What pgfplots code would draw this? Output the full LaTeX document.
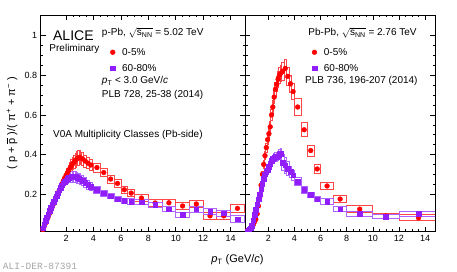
\documentclass[border=0pt]{standalone}
\usepackage{pgfplots}
\pgfplotsset{compat=1.18}
\usepackage{pgfplotstable}
\usepackage{amsmath}
\usepackage{fontspec}
\setmainfont{Liberation Sans}
\setmonofont{Liberation Mono}
\definecolor{cred}{RGB}{255,0,0}
\definecolor{cpur}{RGB}{145,30,250}
\definecolor{bred}{RGB}{255,70,70}
\definecolor{bpur}{RGB}{175,100,255}
\definecolor{aligray}{RGB}{165,165,165}

% p-Pb 0-5%
\pgfplotstableread{
x y dx dy
0.3 0.020 0.05 0.004
0.4 0.036 0.05 0.005
0.5 0.053 0.05 0.006
0.6 0.070 0.05 0.007
0.7 0.086 0.05 0.008
0.8 0.103 0.05 0.009
0.9 0.119 0.05 0.010
1.0 0.136 0.05 0.011
1.1 0.152 0.05 0.012
1.2 0.169 0.05 0.013
1.3 0.185 0.05 0.014
1.4 0.202 0.05 0.015
1.5 0.219 0.05 0.016
1.6 0.235 0.05 0.017
1.7 0.252 0.05 0.018
1.8 0.267 0.05 0.019
1.9 0.281 0.05 0.020
2.0 0.295 0.05 0.022
2.1 0.308 0.05 0.024
2.2 0.321 0.05 0.026
2.3 0.333 0.05 0.028
2.4 0.345 0.05 0.030
2.5 0.355 0.05 0.032
2.6 0.364 0.05 0.034
2.7 0.372 0.05 0.035
2.8 0.379 0.05 0.036
2.9 0.383 0.05 0.036
3.0 0.385 0.05 0.036
3.2 0.378 0.1 0.032
3.4 0.367 0.1 0.030
3.6 0.356 0.1 0.028
3.8 0.347 0.1 0.026
4.25 0.334 0.25 0.022
4.75 0.309 0.25 0.021
5.25 0.276 0.25 0.020
5.75 0.254 0.25 0.019
6.25 0.222 0.25 0.018
6.75 0.205 0.25 0.017
7.5 0.180 0.5 0.016
8.5 0.155 0.5 0.016
9.5 0.156 0.5 0.016
10.5 0.140 0.5 0.016
11.5 0.150 0.5 0.018
12.5 0.090 0.5 0.020
13.5 0.090 0.5 0.020
14.5 0.128 0.5 0.022
}\ppbred

% p-Pb 60-80%
\pgfplotstableread{
x y dx dy
0.3 0.028 0.05 0.004
0.4 0.048 0.05 0.005
0.5 0.066 0.05 0.006
0.6 0.083 0.05 0.007
0.7 0.099 0.05 0.008
0.8 0.115 0.05 0.009
0.9 0.131 0.05 0.010
1.0 0.146 0.05 0.011
1.1 0.161 0.05 0.012
1.2 0.176 0.05 0.013
1.3 0.190 0.05 0.014
1.4 0.205 0.05 0.015
1.5 0.219 0.05 0.016
1.6 0.232 0.05 0.017
1.7 0.244 0.05 0.018
1.8 0.255 0.05 0.019
1.9 0.264 0.05 0.020
2.0 0.271 0.05 0.022
2.1 0.277 0.05 0.024
2.2 0.282 0.05 0.025
2.3 0.286 0.05 0.026
2.4 0.288 0.05 0.027
2.5 0.289 0.05 0.028
2.6 0.289 0.05 0.028
2.7 0.287 0.05 0.028
2.8 0.284 0.05 0.028
2.9 0.280 0.05 0.027
3.0 0.276 0.05 0.027
3.2 0.268 0.1 0.025
3.4 0.258 0.1 0.024
3.6 0.247 0.1 0.022
3.8 0.238 0.1 0.020
4.25 0.222 0.25 0.016
4.75 0.205 0.25 0.015
5.25 0.190 0.25 0.014
5.75 0.175 0.25 0.013
6.25 0.166 0.25 0.013
6.75 0.163 0.25 0.013
7.5 0.160 0.5 0.013
8.5 0.146 0.5 0.013
9.5 0.124 0.5 0.013
10.5 0.096 0.5 0.013
11.5 0.124 0.5 0.014
12.5 0.112 0.5 0.015
13.5 0.104 0.5 0.016
14.5 0.074 0.5 0.016
}\ppbpur

% Pb-Pb 0-5%
\pgfplotstableread{
x y dx dy
0.35 0.015 0.05 0.003
0.45 0.018 0.05 0.003
0.55 0.022 0.05 0.003
0.65 0.027 0.05 0.003
0.75 0.034 0.05 0.004
0.85 0.045 0.05 0.004
0.95 0.060 0.05 0.005
1.05 0.072 0.05 0.006
1.15 0.100 0.05 0.007
1.25 0.140 0.05 0.009
1.35 0.185 0.05 0.011
1.45 0.245 0.05 0.014
1.55 0.300 0.05 0.016
1.65 0.350 0.05 0.018
1.75 0.394 0.05 0.020
1.85 0.435 0.05 0.022
1.95 0.475 0.05 0.024
2.05 0.505 0.05 0.026
2.15 0.540 0.05 0.028
2.25 0.600 0.05 0.030
2.35 0.640 0.05 0.032
2.45 0.690 0.05 0.034
2.55 0.730 0.05 0.036
2.65 0.755 0.05 0.038
2.75 0.780 0.05 0.039
2.85 0.800 0.05 0.040
2.95 0.810 0.05 0.041
3.1 0.820 0.1 0.045
3.3 0.835 0.1 0.046
3.5 0.795 0.1 0.045
3.7 0.757 0.1 0.043
3.9 0.718 0.1 0.041
4.25 0.640 0.25 0.042
4.75 0.525 0.25 0.035
5.25 0.420 0.25 0.028
5.75 0.327 0.25 0.022
6.5 0.241 0.5 0.018
7.5 0.175 0.5 0.017
9.0 0.124 1.0 0.018
11.0 0.090 1.0 0.013
13.5 0.080 1.5 0.015
}\pbpbred

% Pb-Pb 60-80%
\pgfplotstableread{
x y dx dy
0.35 0.012 0.05 0.003
0.45 0.015 0.05 0.003
0.55 0.020 0.05 0.003
0.65 0.027 0.05 0.003
0.75 0.040 0.05 0.004
0.85 0.068 0.05 0.005
0.95 0.095 0.05 0.006
1.05 0.122 0.05 0.007
1.15 0.148 0.05 0.008
1.25 0.174 0.05 0.009
1.35 0.199 0.05 0.010
1.45 0.225 0.05 0.011
1.55 0.252 0.05 0.012
1.65 0.278 0.05 0.013
1.75 0.300 0.05 0.014
1.85 0.313 0.05 0.015
1.95 0.320 0.05 0.016
2.05 0.338 0.05 0.017
2.15 0.355 0.05 0.018
2.25 0.370 0.05 0.019
2.35 0.378 0.05 0.020
2.45 0.384 0.05 0.021
2.55 0.388 0.05 0.022
2.65 0.390 0.05 0.023
2.75 0.392 0.05 0.024
2.85 0.400 0.05 0.025
2.95 0.405 0.05 0.026
3.1 0.360 0.1 0.040
3.3 0.345 0.1 0.040
3.5 0.328 0.1 0.035
3.7 0.312 0.1 0.030
3.9 0.295 0.1 0.025
4.25 0.262 0.25 0.020
4.75 0.222 0.25 0.016
5.25 0.196 0.25 0.014
5.75 0.175 0.25 0.013
6.5 0.163 0.5 0.013
7.5 0.124 0.5 0.012
9.0 0.100 1.0 0.012
11.0 0.087 1.0 0.010
13.5 0.100 1.5 0.015
}\pbpbpur

\pgfplotsset{
  errbox/.style={scatter, only marks, mark=text, text mark={}, forget plot,
    visualization depends on={\thisrow{dx}\as\bdx},
    visualization depends on={\thisrow{dy}\as\bdy},
    scatter/@pre marker code/.code={\draw[#1,line width=0.8pt] (axis direction cs:-\bdx,-\bdy) rectangle (axis direction cs:\bdx,\bdy);},
    scatter/@post marker code/.code={}},
  panel/.style={scale only axis, height=216.7pt, ymin=0.01, ymax=1.105,
    xtick={2,4,6,8,10,12,14}, ytick={0.2,0.4,0.6,0.8,1},
    minor x tick num=3, minor y tick num=3,
    tick align=inside, tick pos=both, major tick length=5pt, minor tick length=2.5pt,
    axis line style={line width=0.7pt}, every tick/.style={black, line width=0.6pt},
    tick label style={font=\fontsize{9}{10}\selectfont},
    /pgf/number format/assume math mode=true,
    clip mode=individual, clip marker paths=true, legend cell align=left,
    legend style={draw=none, fill=none, inner sep=0pt, row sep=5.5pt, column sep=6pt,
      font=\fontsize{10}{12}\selectfont, nodes={inner sep=1pt}}},
  redmk/.style={only marks, mark=*, mark size=2.4pt, color=cred,
    legend image code/.code={\draw[##1] plot coordinates {(0pt,0pt)};}},
  purmk/.style={only marks, mark=square*, mark size=2.3pt, color=cpur,
    legend image code/.code={\draw[##1] plot coordinates {(0pt,0pt)};}},
}

\begin{document}
\begin{tikzpicture}
\useasboundingbox (0,0) rectangle (457pt,272pt);
\begin{axis}[panel, width=204.3pt, at={(40.7pt,40.3pt)}, anchor=south west,
  xmin=0.15, xmax=15.05,
  legend style={at={(axis description cs:0.34,0.853)}, anchor=north west},
  ylabel={( p + $\overline{\text{p}}$ )/( π\textsuperscript{+} + π\textsuperscript{−} )},
  ylabel style={at={(axis description cs:-0.14,0.5)}, anchor=center, font=\fontsize{11}{13}\selectfont}]
\addplot[errbox=bred] table[x=x,y=y] {\ppbred};
\addplot[errbox=bpur] table[x=x,y=y] {\ppbpur};
\addplot[redmk] table[x=x,y=y] {\ppbred};
\addlegendentry{0-5\%}
\addplot[purmk] table[x=x,y=y] {\ppbpur};
\addlegendentry{60-80\%}
\node[anchor=west, inner sep=0pt, font=\fontsize{14}{16}\selectfont] at (axis description cs:0.060,0.903) {ALICE};
\node[anchor=west, inner sep=0pt, font=\fontsize{10}{12}\selectfont] at (axis description cs:0.042,0.842) {Preliminary};
\node[anchor=west, inner sep=0pt, font=\fontsize{10}{12}\selectfont] at (axis description cs:0.299,0.916) {p-Pb, $\sqrt{\text{s}_{\text{NN}}}$ = 5.02 TeV};
\node[anchor=west, inner sep=0pt, font=\fontsize{10}{12}\selectfont] at (axis description cs:0.299,0.695) {\textit{p}\textsubscript{T} < 3.0 GeV/\textit{c}};
\node[anchor=west, inner sep=0pt, font=\fontsize{10}{12}\selectfont] at (axis description cs:0.299,0.631) {PLB 728, 25-38 (2014)};
\node[anchor=west, inner sep=0pt, font=\fontsize{10}{12}\selectfont] at (axis description cs:0.060,0.446) {V0A Multiplicity Classes (Pb-side)};
\node[anchor=west, inner sep=0pt, text=aligray, font=\ttfamily\fontsize{9.5}{11}\selectfont] at (axis description cs:-0.186,-0.1615) {ALI-DER-87391};
\node[anchor=base, inner sep=0pt, font=\fontsize{11}{13}\selectfont] at (axis description cs:0.963,-0.144) {\textit{p}\textsubscript{T} (GeV/\textit{c})};
\end{axis}
\begin{axis}[panel, width=190pt, at={(245pt,40.3pt)}, anchor=south west,
  xmin=0.22, xmax=14.76, yticklabels={},
  legend style={at={(axis description cs:0.352,0.853)}, anchor=north west}]
\addplot[errbox=bred] table[x=x,y=y] {\pbpbred};
\addplot[errbox=bpur] table[x=x,y=y] {\pbpbpur};
\addplot[redmk] table[x=x,y=y] {\pbpbred};
\addlegendentry{0-5\%}
\addplot[purmk] table[x=x,y=y] {\pbpbpur};
\addlegendentry{60-80\%}
\node[anchor=west, inner sep=0pt, font=\fontsize{10}{12}\selectfont] at (axis description cs:0.333,0.916) {Pb-Pb, $\sqrt{\text{s}_{\text{NN}}}$ = 2.76 TeV};
\node[anchor=west, inner sep=0pt, font=\fontsize{10}{12}\selectfont] at (axis description cs:0.316,0.695) {PLB 736, 196-207 (2014)};
\end{axis}
\end{tikzpicture}
\end{document}
